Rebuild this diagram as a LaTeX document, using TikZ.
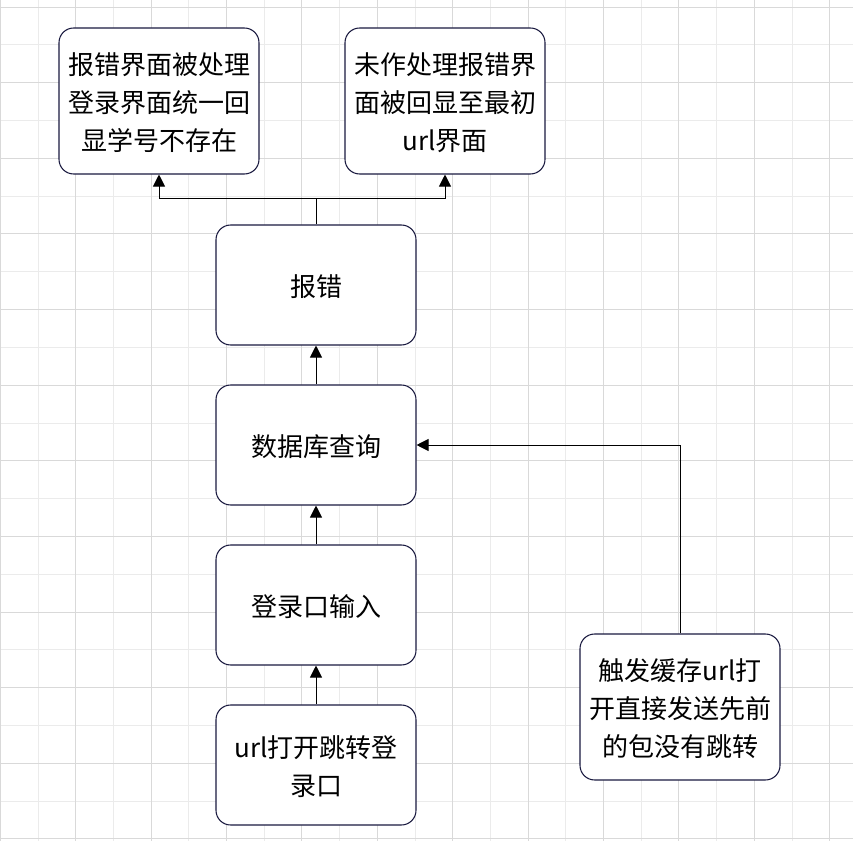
\documentclass[tikz,border=0pt]{standalone}
\usepackage{fontspec}
\newfontfamily\cjk{Noto Sans CJK SC}
\usepackage{tikz}
\usetikzlibrary{arrows.meta,%
                positioning}

\definecolor{gridmajor}{HTML}{D9D9D9}
\definecolor{gridminor}{HTML}{EBEBEB}
\definecolor{boxline}{HTML}{1A1A40}

% text lines of a box, set a little low as in the reference
\newcommand{\boxlines}[1]{\raisebox{-2.6pt}[\height][\depth]{\begin{tabular}{@{}c@{}}#1\end{tabular}}}

\begin{document}
\begin{tikzpicture}[x=0.75pt,y=-0.75pt,
  box/.style={draw=boxline, line width=0.8pt, fill=white, rounded corners=11pt,
    minimum width=150pt, minimum height=90pt, inner sep=0pt,
    font=\cjk\fontsize{19.5pt}{28.5pt}\selectfont},
  tall/.style={minimum height=109.5pt},
  arr/.style={-{Triangle[length=9pt,width=9pt]}, line width=0.75pt, black}]
\useasboundingbox (0,0) rectangle (853,841);
\fill[white] (0,0) rectangle (853,841);
% grid
\foreach \i in {0,...,22}
  \draw[gridminor, line width=0.75pt] (0.3+37.7*\i,0) -- (0.3+37.7*\i,841);
\foreach \j in {0,...,22}
  \draw[gridminor, line width=0.75pt] (0,7.2+37.8*\j) -- (853,7.2+37.8*\j);
\foreach \i in {0,...,11}
  \draw[gridmajor, line width=0.75pt] (0.3+75.4*\i,0) -- (0.3+75.4*\i,841);
\foreach \j in {0,...,11}
  \draw[gridmajor, line width=0.75pt] (0,7.2+75.6*\j) -- (853,7.2+75.6*\j);

% boxes
\node[box,tall] (handled) at (159,101) {\boxlines{报错界面被处理\\登录界面统一回\\显学号不存在}};
\node[box,tall] (raw) at (445,101) {\boxlines{未作处理报错界\\面被回显至最初\\url界面}};
\node[box] (err) at (316,285) {\boxlines{报错}};
\node[box] (query) at (316,445) {\boxlines{数据库查询}};
\node[box] (login) at (316,605) {\boxlines{登录口输入}};
\node[box] (open) at (316,765) {\boxlines{url打开跳转登\\录口}};
\node[box,tall] (cache) at (680,707) {\boxlines{触发缓存url打\\开直接发送先前\\的包没有跳转}};

% connectors
\coordinate (split) at (316,199);
\draw[line width=0.75pt] (err.north) -- (split);
\draw[arr] (split) -| (handled.south);
\draw[arr] (split) -| (raw.south);
\draw[arr] (query.north) -- (err.south);
\draw[arr] (login.north) -- (query.south);
\draw[arr] (open.north) -- (login.south);
\draw[arr] (cache.north) |- (query.east);
\end{tikzpicture}
\end{document}
